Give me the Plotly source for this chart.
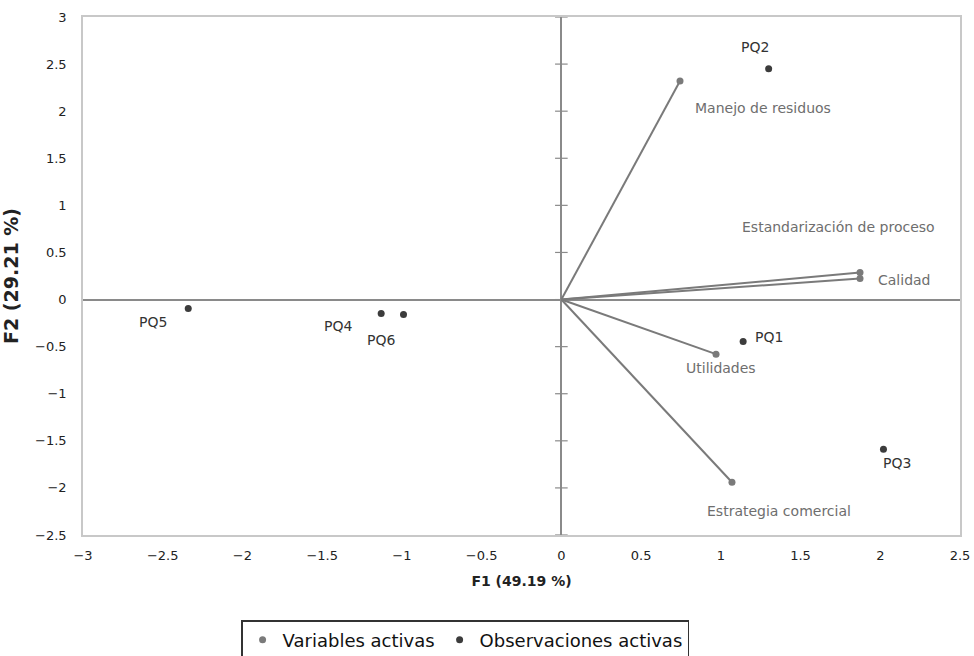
import plotly.graph_objects as go

# ---- data ----
var_names = ["Manejo de residuos", "Estandarización de proceso", "Calidad", "Utilidades", "Estrategia comercial"]
var_f1 = [0.744, 1.873, 1.873, 0.97, 1.07]
var_f2 = [2.32, 0.286, 0.223, -0.58, -1.94]

obs_names = ["PQ1", "PQ2", "PQ3", "PQ4", "PQ5", "PQ6"]
obs_f1 = [1.14, 1.30, 2.02, -1.13, -2.34, -0.99]
obs_f2 = [-0.445, 2.45, -1.59, -0.148, -0.095, -0.159]

x_ticks = [-3, -2.5, -2, -1.5, -1, -0.5, 0, 0.5, 1, 1.5, 2, 2.5]
y_ticks = [-2.5, -2, -1.5, -1, -0.5, 0, 0.5, 1, 1.5, 2, 2.5, 3]

# ---- styling (label pixel offsets) ----
var_label_offsets = {
    "Manejo de residuos": (83, -27),
    "Estandarización de proceso": (-22, 46),
    "Calidad": (44, -1),
    "Utilidades": (5, -14),
    "Estrategia comercial": (47, -29),
}
obs_label_offsets = {
    "PQ1": (26, 4), "PQ2": (-14, 22), "PQ3": (14, -14),
    "PQ4": (-43, -13), "PQ5": (-35, -14), "PQ6": (-23, -25),
}

VAR_COLOR = "#7a7a7a"
OBS_COLOR = "#3c3c3c"
FONT = "DejaVu Sans"

fig = go.Figure()

# tick marks on the vertical zero line
fig.add_trace(go.Scatter(
    x=[0] * len(y_ticks), y=y_ticks, mode="markers",
    marker=dict(symbol="line-ew", size=9, line=dict(color="#8a8a8a", width=1.2)),
    showlegend=False, hoverinfo="skip", cliponaxis=False))

# vectors from origin
lx, ly = [], []
for a, b in zip(var_f1, var_f2):
    lx += [0, a, None]
    ly += [0, b, None]
fig.add_trace(go.Scatter(x=lx, y=ly, mode="lines",
                         line=dict(color=VAR_COLOR, width=2),
                         showlegend=False, hoverinfo="skip"))

fig.add_trace(go.Scatter(x=var_f1, y=var_f2, mode="markers", name="Variables activas",
                         marker=dict(color=VAR_COLOR, size=7), text=var_names))
fig.add_trace(go.Scatter(x=obs_f1, y=obs_f2, mode="markers", name="Observaciones activas",
                         marker=dict(color=OBS_COLOR, size=7), text=obs_names))

for n, a, b in zip(var_names, var_f1, var_f2):
    dx, dy = var_label_offsets[n]
    fig.add_annotation(x=a, y=b, text=n, showarrow=False, xshift=dx, yshift=dy,
                       font=dict(family=FONT, size=14, color="#6e6e6e"))
for n, a, b in zip(obs_names, obs_f1, obs_f2):
    dx, dy = obs_label_offsets[n]
    fig.add_annotation(x=a, y=b, text=n, showarrow=False, xshift=dx, yshift=dy,
                       font=dict(family=FONT, size=14, color="#333333"))

axis_common = dict(showgrid=False, zeroline=True, zerolinecolor="#8a8a8a", zerolinewidth=2,
                   showline=True, linecolor="#c8c8c8", linewidth=1.5, mirror=True,
                   ticks="", automargin=False,
                   tickfont=dict(family=FONT, size=13, color="#222222"))

fig.update_xaxes(range=[-3, 2.5], tickvals=x_ticks, ticklabelstandoff=8,
                 title=dict(text="<b>F1 (49.19 %)</b>", font=dict(family=FONT, size=14, color="#222222"),
                            standoff=14),
                 **axis_common)
fig.update_yaxes(range=[-2.5, 3], tickvals=y_ticks, ticklabelstandoff=12,
                 title=dict(text="<b>F2 (29.21 %)</b>", font=dict(family=FONT, size=19, color="#222222"),
                            standoff=14),
                 **axis_common)

fig.update_layout(
    width=974, height=656,
    margin=dict(l=83, r=14, t=17, b=121, autoexpand=False),
    plot_bgcolor="white", paper_bgcolor="white",
    font=dict(family=FONT),
    legend=dict(orientation="h", x=0.436, xanchor="center", y=-0.165, yanchor="top",
                bordercolor="#333333", borderwidth=1.2,
                font=dict(family=FONT, size=18, color="#111111"),
                itemwidth=30),
    hovermode="closest",
)

fig.write_html("out.html", config={"displayModeBar": False},
               post_script="document.body.style.margin='0';document.body.style.overflow='hidden';")
